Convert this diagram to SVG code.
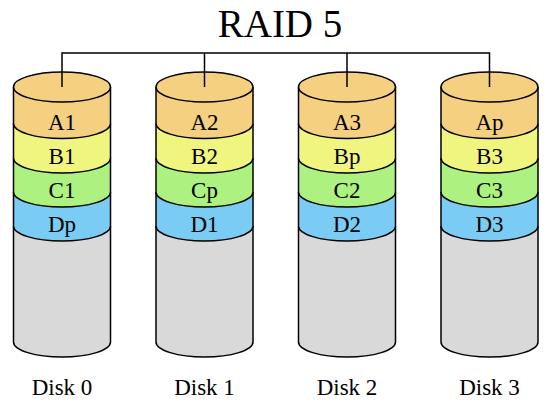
<svg xmlns="http://www.w3.org/2000/svg" width="550" height="406" viewBox="0 0 550 406">
<style>
.s{stroke:#000;stroke-width:1.5}
.g{fill:#D9D9D9}
.a{fill:#F5D080}
.b{fill:#F0F580}
.c{fill:#ADF280}
.d{fill:#7ACCF5}
text{font-family:"Liberation Serif","Times New Roman",serif;fill:#000;text-anchor:middle}
.l{font-size:23px}
.k{font-size:23px}
</style>
<defs>
<g id="cyl">
<path class="s g" d="M-48.5,226 L-48.5,342 A48.5,15 0 0 0 48.5,342 L48.5,226"/>
<path class="s d" d="M-48.5,192 L-48.5,226 A48.5,15 0 0 0 48.5,226 L48.5,192"/>
<path class="s c" d="M-48.5,158 L-48.5,192 A48.5,15 0 0 0 48.5,192 L48.5,158"/>
<path class="s b" d="M-48.5,123.5 L-48.5,158 A48.5,15 0 0 0 48.5,158 L48.5,123.5"/>
<path class="s a" d="M-48.5,87 L-48.5,123.5 A48.5,15 0 0 0 48.5,123.5 L48.5,87"/>
<ellipse class="s a" cx="0" cy="87" rx="48.5" ry="15"/>
</g>
</defs>
<text x="280" y="37" style="font-size:39px">RAID 5</text>
<g id="disk0" transform="translate(62,0)">
<use href="#cyl"/>
<text class="l" x="0" y="130">A1</text><text class="l" x="0" y="164">B1</text><text class="l" x="0" y="198">C1</text><text class="l" x="0" y="232">Dp</text>
<text class="k" x="0" y="395">Disk 0</text>
</g>
<g id="disk1" transform="translate(204.5,0)">
<use href="#cyl"/>
<text class="l" x="0" y="130">A2</text><text class="l" x="0" y="164">B2</text><text class="l" x="0" y="198">Cp</text><text class="l" x="0" y="232">D1</text>
<text class="k" x="0" y="395">Disk 1</text>
</g>
<g id="disk2" transform="translate(347,0)">
<use href="#cyl"/>
<text class="l" x="0" y="130">A3</text><text class="l" x="0" y="164">Bp</text><text class="l" x="0" y="198">C2</text><text class="l" x="0" y="232">D2</text>
<text class="k" x="0" y="395">Disk 2</text>
</g>
<g id="disk3" transform="translate(489.5,0)">
<use href="#cyl"/>
<text class="l" x="0" y="130">Ap</text><text class="l" x="0" y="164">B3</text><text class="l" x="0" y="198">C3</text><text class="l" x="0" y="232">D3</text>
<text class="k" x="0" y="395">Disk 3</text>
</g>
<g id="connectors" fill="none" stroke="#000" stroke-width="1.5">
<path d="M62,87 V53 H489.5 V87 M204.5,53 V87 M347,53 V87"/>
</g>
</svg>
